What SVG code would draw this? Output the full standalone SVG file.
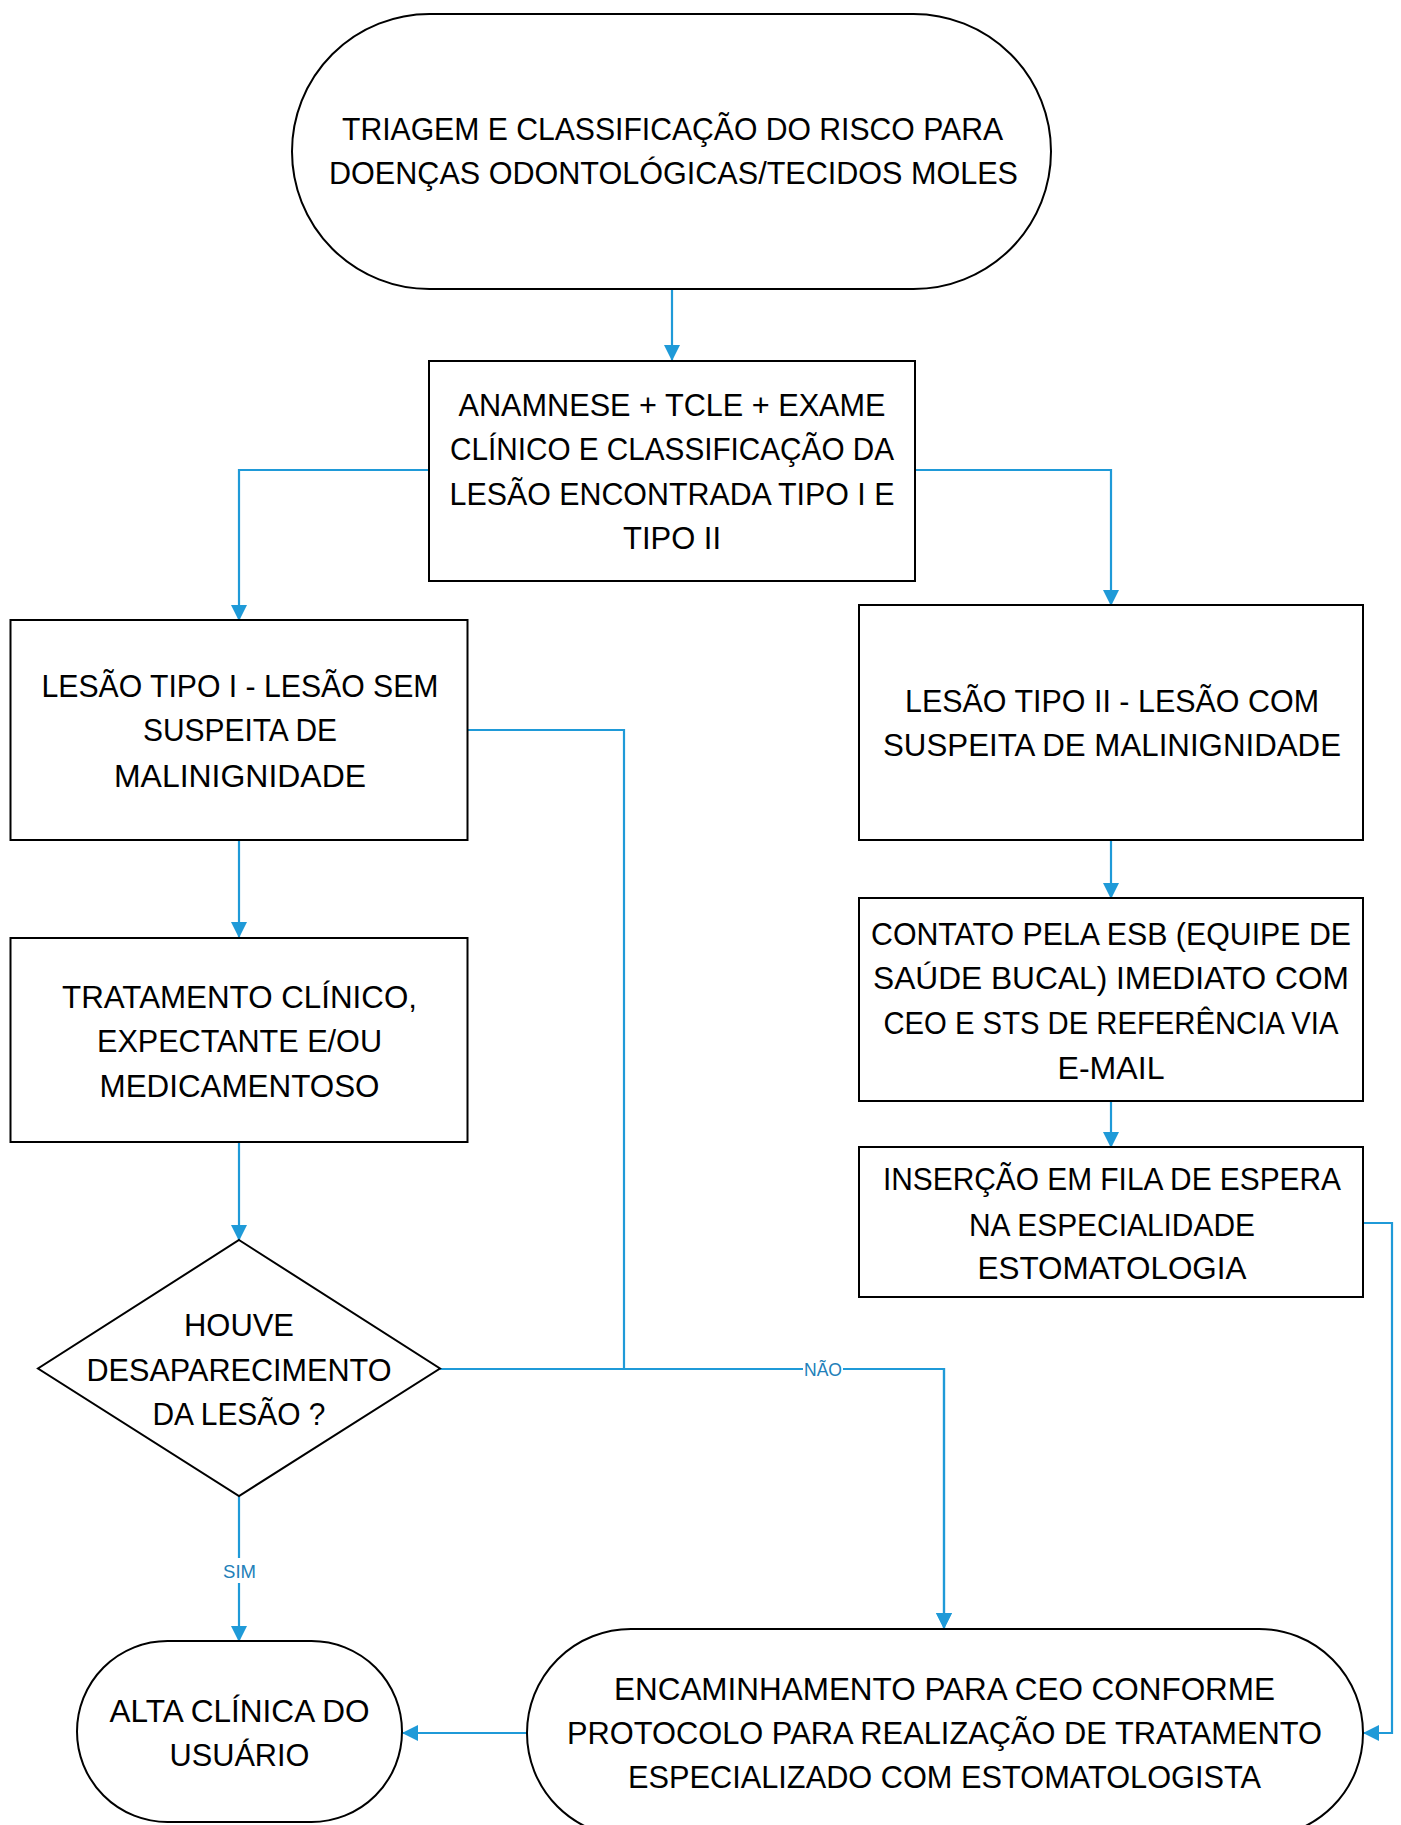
<svg xmlns="http://www.w3.org/2000/svg" width="1401" height="1825" viewBox="0 0 1401 1825">
<style>
.n{fill:#fff;stroke:#000;stroke-width:2}
.t{font-family:"Liberation Sans",Arial,sans-serif;font-size:32px;fill:#000;text-anchor:middle}
.c{fill:none;stroke:#1f9ad8;stroke-width:2.2}
.l{font-family:"Liberation Sans",Arial,sans-serif;font-size:19px;fill:#2280b9;text-anchor:middle}
</style>
<defs>
<marker id="ah" markerUnits="userSpaceOnUse" markerWidth="16" markerHeight="16" viewBox="0 0 16 16" refX="15" refY="8" orient="auto">
<path d="M0 0 L16 8 L0 16 Z" fill="#1f9ad8"/>
</marker>
</defs>
<rect width="1401" height="1825" fill="#fff"/>
<g id="connectors">
<path class="c" d="M672 289 V360" marker-end="url(#ah)"/>
<path class="c" d="M429 470 H239 V620" marker-end="url(#ah)"/>
<path class="c" d="M915 470 H1111 V605" marker-end="url(#ah)"/>
<path class="c" d="M239 840 V937" marker-end="url(#ah)"/>
<path class="c" d="M239 1142 V1240" marker-end="url(#ah)"/>
<path class="c" d="M468 730 H624 V1369 H944 V1628" marker-end="url(#ah)"/>
<path class="c" d="M440 1369 H944 V1628" marker-end="url(#ah)"/>
<path class="c" d="M239 1496 V1641" marker-end="url(#ah)"/>
<path class="c" d="M1111 840 V898" marker-end="url(#ah)"/>
<path class="c" d="M1111 1101 V1147" marker-end="url(#ah)"/>
<path class="c" d="M1363 1223 H1392 V1733 H1364" marker-end="url(#ah)"/>
<path class="c" d="M527 1733 H403" marker-end="url(#ah)"/>
<rect x="803" y="1359" width="40" height="21" fill="#fff"/>
<text class="l" x="823" y="1376" textLength="38" lengthAdjust="spacingAndGlyphs">NÃO</text>
<rect x="223" y="1558" width="33" height="25" fill="#fff"/>
<text class="l" x="239.5" y="1578" textLength="33" lengthAdjust="spacingAndGlyphs">SIM</text>
</g>
<g id="n1">
<rect class="n" x="292" y="14" width="759" height="275" rx="137.5"/>
<text class="t" x="672.5" y="139.5" textLength="661" lengthAdjust="spacingAndGlyphs">TRIAGEM E CLASSIFICAÇÃO DO RISCO PARA</text>
<text class="t" x="673.5" y="183.5" textLength="689" lengthAdjust="spacingAndGlyphs">DOENÇAS ODONTOLÓGICAS/TECIDOS MOLES</text>
</g>
<g id="n2">
<rect class="n" x="429" y="361" width="486" height="220"/>
<text class="t" x="672" y="415.5" textLength="427" lengthAdjust="spacingAndGlyphs">ANAMNESE + TCLE + EXAME</text>
<text class="t" x="672" y="459.5" textLength="444" lengthAdjust="spacingAndGlyphs">CLÍNICO E CLASSIFICAÇÃO DA</text>
<text class="t" x="672" y="505" textLength="445" lengthAdjust="spacingAndGlyphs">LESÃO ENCONTRADA TIPO I E</text>
<text class="t" x="672" y="549" textLength="98" lengthAdjust="spacingAndGlyphs">TIPO II</text>
</g>
<g id="n3">
<rect class="n" x="10.5" y="620" width="457" height="220"/>
<text class="t" x="240" y="697" textLength="397" lengthAdjust="spacingAndGlyphs">LESÃO TIPO I - LESÃO SEM</text>
<text class="t" x="240" y="741" textLength="194" lengthAdjust="spacingAndGlyphs">SUSPEITA DE</text>
<text class="t" x="240" y="786.5" textLength="252" lengthAdjust="spacingAndGlyphs">MALINIGNIDADE</text>
</g>
<g id="n4">
<rect class="n" x="859" y="605" width="504" height="235"/>
<text class="t" x="1112" y="712" textLength="414" lengthAdjust="spacingAndGlyphs">LESÃO TIPO II - LESÃO COM</text>
<text class="t" x="1112" y="756" textLength="458" lengthAdjust="spacingAndGlyphs">SUSPEITA DE MALINIGNIDADE</text>
</g>
<g id="n5">
<rect class="n" x="10.5" y="938" width="457" height="204"/>
<text class="t" x="239.5" y="1007.5" textLength="355" lengthAdjust="spacingAndGlyphs">TRATAMENTO CLÍNICO,</text>
<text class="t" x="239.5" y="1052" textLength="285" lengthAdjust="spacingAndGlyphs">EXPECTANTE E/OU</text>
<text class="t" x="239.5" y="1097" textLength="280" lengthAdjust="spacingAndGlyphs">MEDICAMENTOSO</text>
</g>
<g id="n6">
<rect class="n" x="859" y="898" width="504" height="203"/>
<text class="t" x="1111" y="944.5" textLength="480" lengthAdjust="spacingAndGlyphs">CONTATO PELA ESB (EQUIPE DE</text>
<text class="t" x="1111" y="989" textLength="476" lengthAdjust="spacingAndGlyphs">SAÚDE BUCAL) IMEDIATO COM</text>
<text class="t" x="1111" y="1034" textLength="455" lengthAdjust="spacingAndGlyphs">CEO E STS DE REFERÊNCIA VIA</text>
<text class="t" x="1111" y="1078.5" textLength="107" lengthAdjust="spacingAndGlyphs">E-MAIL</text>
</g>
<g id="n7">
<rect class="n" x="859" y="1147" width="504" height="150"/>
<text class="t" x="1112" y="1190" textLength="458" lengthAdjust="spacingAndGlyphs">INSERÇÃO EM FILA DE ESPERA</text>
<text class="t" x="1112" y="1235.5" textLength="286" lengthAdjust="spacingAndGlyphs">NA ESPECIALIDADE</text>
<text class="t" x="1112" y="1278.5" textLength="269" lengthAdjust="spacingAndGlyphs">ESTOMATOLOGIA</text>
</g>
<g id="n8">
<path class="n" d="M239 1240 L440 1368.5 L239 1496 L38 1368.5 Z"/>
<text class="t" x="239" y="1335.5" textLength="110" lengthAdjust="spacingAndGlyphs">HOUVE</text>
<text class="t" x="239" y="1381" textLength="305" lengthAdjust="spacingAndGlyphs">DESAPARECIMENTO</text>
<text class="t" x="239" y="1425" textLength="173" lengthAdjust="spacingAndGlyphs">DA LESÃO ?</text>
</g>
<g id="n9">
<rect class="n" x="77" y="1641" width="325" height="181" rx="90.5"/>
<text class="t" x="239.5" y="1722" textLength="260" lengthAdjust="spacingAndGlyphs">ALTA CLÍNICA DO</text>
<text class="t" x="239.5" y="1766" textLength="140" lengthAdjust="spacingAndGlyphs">USUÁRIO</text>
</g>
<g id="n10">
<rect class="n" x="527" y="1629" width="836" height="208" rx="104"/>
<text class="t" x="944.5" y="1700" textLength="661" lengthAdjust="spacingAndGlyphs">ENCAMINHAMENTO PARA CEO CONFORME</text>
<text class="t" x="944.5" y="1744" textLength="755" lengthAdjust="spacingAndGlyphs">PROTOCOLO PARA REALIZAÇÃO DE TRATAMENTO</text>
<text class="t" x="944.5" y="1788" textLength="633" lengthAdjust="spacingAndGlyphs">ESPECIALIZADO COM ESTOMATOLOGISTA</text>
</g>
</svg>
